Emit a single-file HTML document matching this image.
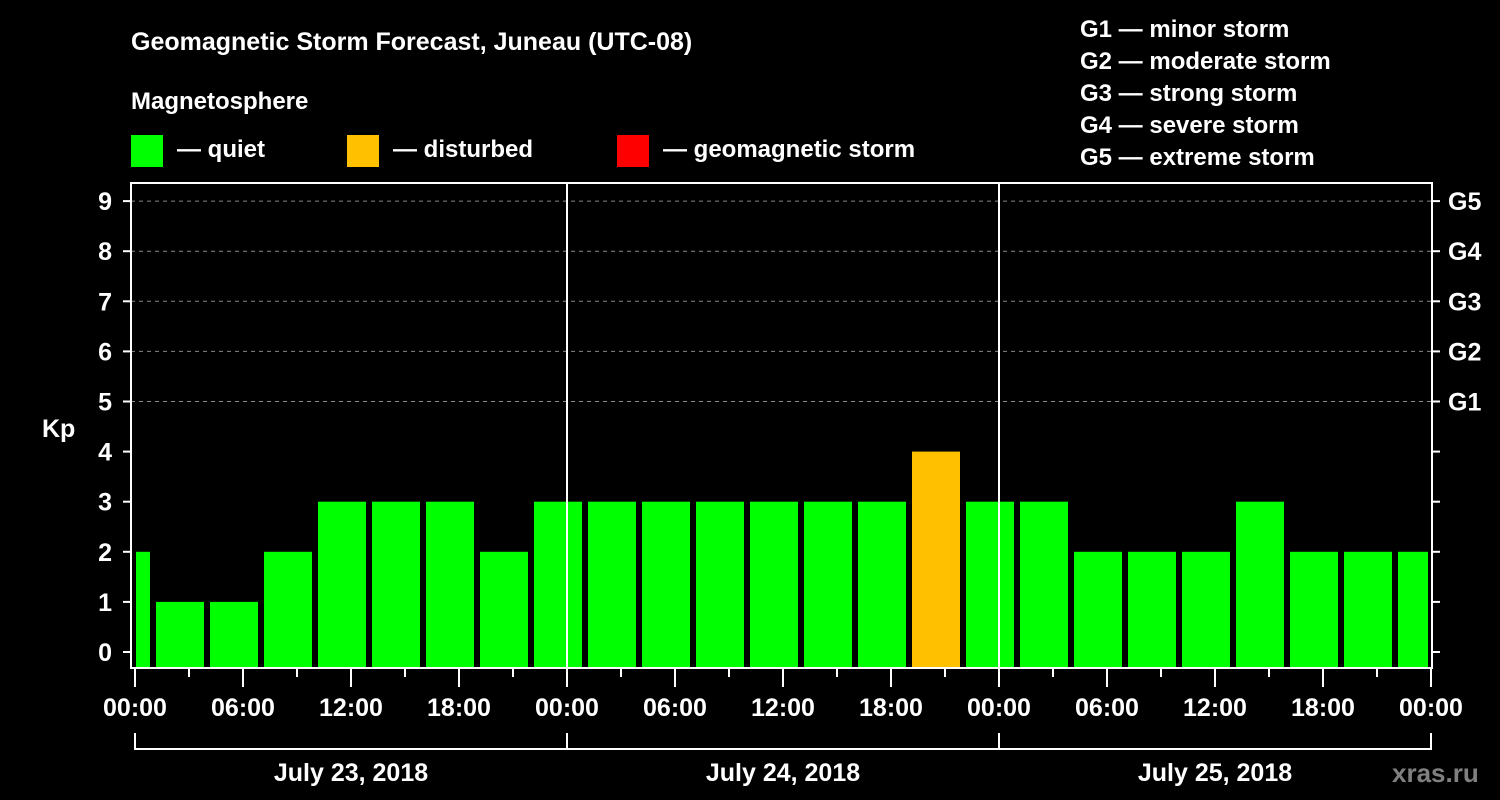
<!DOCTYPE html>
<html><head><meta charset="utf-8"><style>
html,body{margin:0;padding:0;background:#000;}
svg{display:block;font-family:"Liberation Sans",Arial,sans-serif;font-weight:bold;}
</style></head><body>
<svg id="chart" width="1500" height="800" viewBox="0 0 1500 800">
<rect width="1500" height="800" fill="#000"/>
<text x="131" y="50" fill="#fff" font-size="25">Geomagnetic Storm Forecast, Juneau (UTC-08)</text>
<text x="131" y="109" fill="#fff" font-size="24">Magnetosphere</text>
<g><rect x="131" y="135" width="32" height="32" fill="#00ff00"/><text x="177" y="157" fill="#fff" font-size="24">— quiet</text></g>
<g><rect x="347" y="135" width="32" height="32" fill="#ffc000"/><text x="393" y="157" fill="#fff" font-size="24">— disturbed</text></g>
<g><rect x="617" y="135" width="32" height="32" fill="#ff0000"/><text x="663" y="157" fill="#fff" font-size="24">— geomagnetic storm</text></g>
<g fill="#fff" font-size="24">
<text x="1080" y="37">G1 — minor storm</text>
<text x="1080" y="69">G2 — moderate storm</text>
<text x="1080" y="101">G3 — strong storm</text>
<text x="1080" y="133">G4 — severe storm</text>
<text x="1080" y="165">G5 — extreme storm</text>
</g>
<text x="42" y="437" fill="#fff" font-size="25">Kp</text>
<text x="1392" y="782" fill="#808080" font-size="26">xras.ru</text>
<g id="grid"></g><g id="bars"></g><g id="axes"></g>
</svg>
<script>
const kpValues = [2,1,1,2,3,3,3,2,3,3,3,3,3,3,3,4,3,3,2,2,2,3,2,2,2];
const binHours = [-3,0,3,6,9,12,15,18,21,24,27,30,33,36,39,42,45,48,51,54,57,60,63,66,69];
const yTicks = [0,1,2,3,4,5,6,7,8,9];
const gLabels = ["G1","G2","G3","G4","G5"];
const gLevels = [5,6,7,8,9];
const timeLabels = ["00:00","06:00","12:00","18:00","00:00","06:00","12:00","18:00","00:00","06:00","12:00","18:00","00:00"];
const dayLabels = ["July 23, 2018","July 24, 2018","July 25, 2018"];
const NS="http://www.w3.org/2000/svg";
const X0=135, HP=18, L=131, R=1432, T=183, B=668;
const x = h => X0 + h*HP + 15; // bins offset
const xt = h => X0 + h*HP;
const y = v => 652 - v*50.1;
function mk(tag, attrs, parent){const e=document.createElementNS(NS,tag);for(const k in attrs)e.setAttribute(k,attrs[k]);parent.appendChild(e);return e;}
const grid=document.getElementById('grid'), bars=document.getElementById('bars'), axes=document.getElementById('axes');
gLevels.forEach(v=>{
  const l=mk('line',{x1:L,x2:R,y1:y(v),y2:y(v),stroke:'#888','stroke-dasharray':'4,4','stroke-width':1},grid);
  
  
});
kpValues.forEach((v,i)=>{
  let x1=x(binHours[i])+6, x2=x(binHours[i]+3);
  x1=Math.max(x1,L+5); x2=Math.min(x2,R-4);
  const c = v>=5?'#ff0000':(v>=4?'#ffc000':'#00ff00');
  const r=mk('rect',{x:x1,y:y(v),width:x2-x1,height:B-y(v),fill:c},bars);
  
  
});
mk('rect',{x:L,y:T,width:R-L,height:B-T,fill:'none',stroke:'#fff','stroke-width':2},axes);
[24,48].forEach(h=>{mk('line',{x1:xt(h),x2:xt(h),y1:T,y2:B,stroke:'#fff','stroke-width':2},axes);});
yTicks.forEach(v=>{
  mk('line',{x1:L-8,x2:L,y1:y(v),y2:y(v),stroke:'#fff','stroke-width':2},axes);
  mk('line',{x1:R,x2:R+8,y1:y(v),y2:y(v),stroke:'#fff','stroke-width':2},axes);
  const t=mk('text',{x:112,y:y(v)+9,fill:'#fff','font-size':25,'text-anchor':'end'},axes);
  t.textContent=v;
  
  
});
gLabels.forEach((g,i)=>{
  const t=mk('text',{x:1448,y:y(gLevels[i])+9,fill:'#fff','font-size':25},axes);
  t.textContent=g;
  
  
});
for(let h=0;h<=72;h+=3){
  const major=h%6===0;
  mk('line',{x1:xt(h),x2:xt(h),y1:B,y2:major?687:677,stroke:'#fff','stroke-width':2},axes);
}
timeLabels.forEach((s,i)=>{
  const t=mk('text',{x:xt(i*6),y:716,fill:'#fff','font-size':25,'text-anchor':'middle'},axes);
  t.textContent=s;
  
  
});
mk('line',{x1:xt(0),x2:xt(72),y1:749,y2:749,stroke:'#fff','stroke-width':2},axes);
[0,24,48,72].forEach(h=>mk('line',{x1:xt(h),x2:xt(h),y1:733,y2:750,stroke:'#fff','stroke-width':2},axes));
dayLabels.forEach((s,i)=>{
  const t=mk('text',{x:xt(i*24+12),y:781,fill:'#fff','font-size':25,'text-anchor':'middle'},axes);
  t.textContent=s;
  
  
});
</script>
</body></html>
